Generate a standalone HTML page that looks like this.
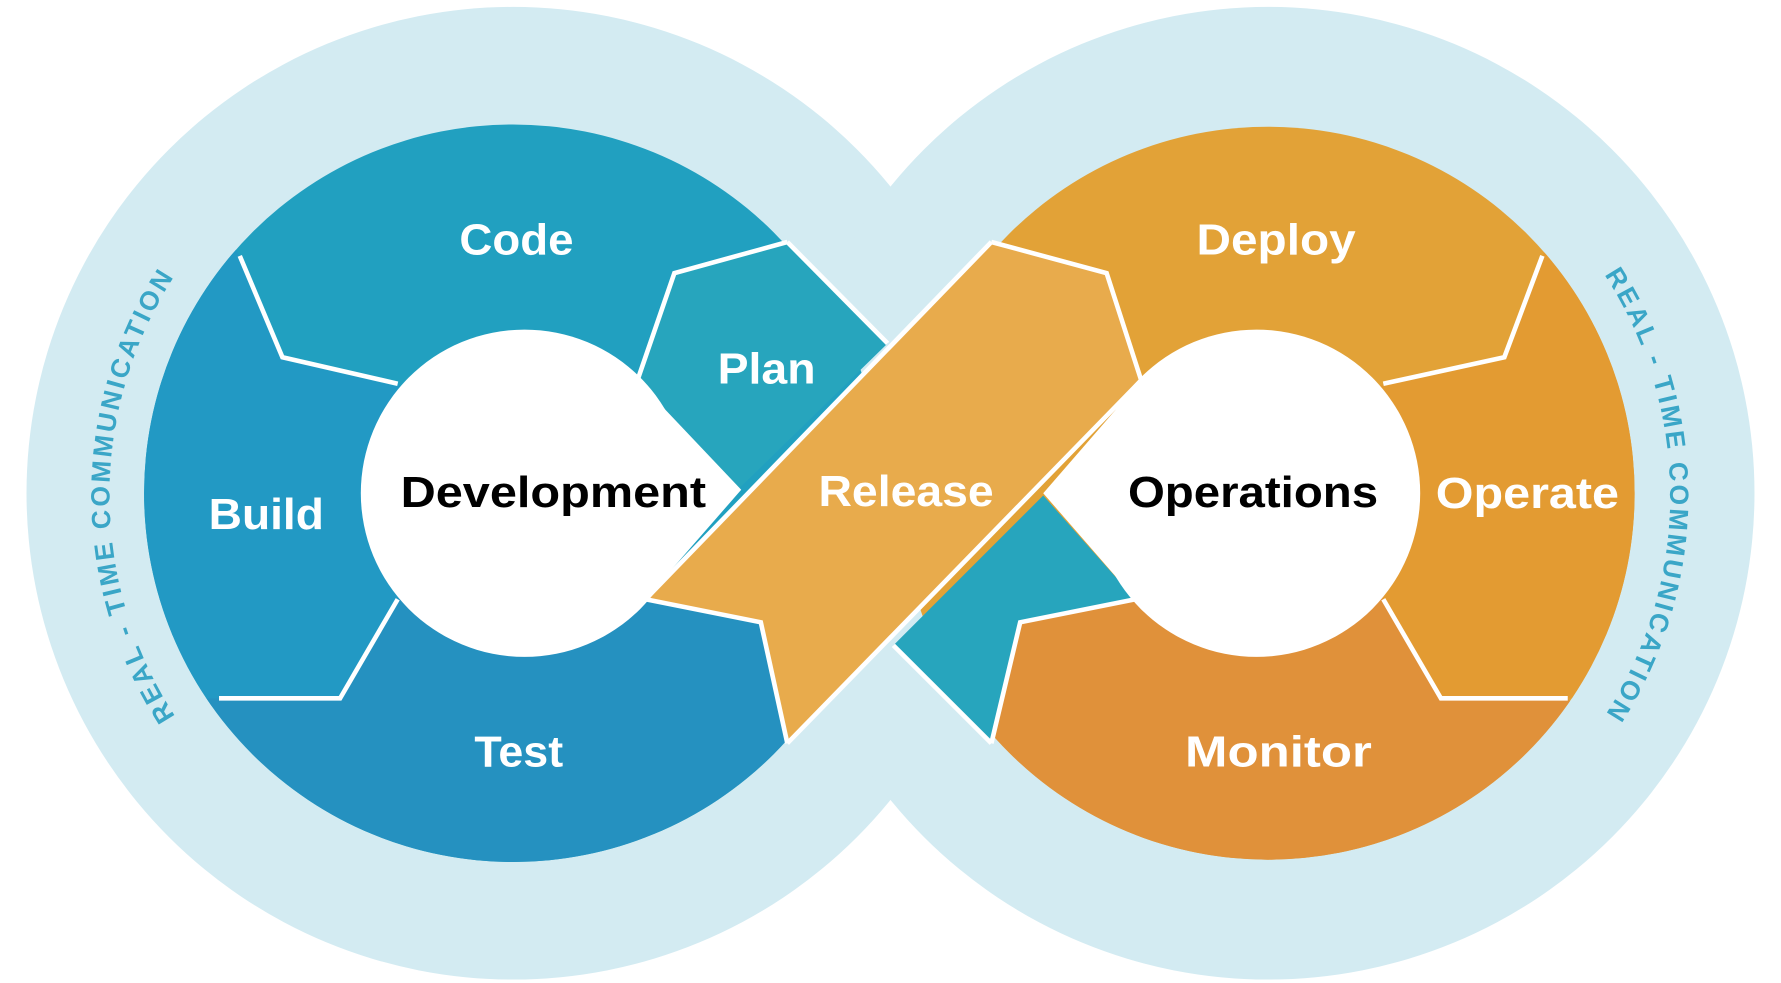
<!DOCTYPE html>
<html><head><meta charset="utf-8"><style>
html,body{margin:0;padding:0;background:#fff;width:1781px;height:983px;overflow:hidden;}
svg{display:block;}
text{font-family:"Liberation Sans",sans-serif;font-weight:bold;}
</style></head><body>
<svg width="1781" height="983" viewBox="0 0 1545 853" preserveAspectRatio="none" xmlns="http://www.w3.org/2000/svg">
<defs>
<clipPath id="cl"><circle cx="445" cy="428" r="320"/></clipPath>
<clipPath id="cr"><circle cx="1100" cy="428" r="318"/></clipPath>
<path id="arcL" d="M 165 640 A 350 350 0 0 1 165 220" fill="none"/>
<path id="arcR" d="M 1375 215 A 350 350 0 0 1 1375 645" fill="none"/>
</defs>
<rect width="1545" height="853" fill="#fff"/>
<circle cx="445" cy="428" r="422" fill="#d3ebf2"/>
<circle cx="1100" cy="428" r="422" fill="#d3ebf2"/>

<g clip-path="url(#cl)">
<rect x="100" y="100" width="700" height="700" fill="#21a0c0"/>
<polygon points="0,0 150,130 208,222 245,310 345,333 455,428 345,520 295,606 190,606 100,700 0,700" fill="#2299c4"/>
<polygon points="190,606 295,606 345,520 455,428 560,520 660,540 683,645 700,800 100,800 100,606" fill="#2591c0"/>
</g>
<g clip-path="url(#cr)">
<rect x="770" y="100" width="700" height="700" fill="#e2a237"/>
<polygon points="1400,100 1338,222 1305,310 1200,333 1090,428 1200,520 1250,606 1360,606 1600,606 1600,100" fill="#e39b32"/>
<polygon points="1360,606 1250,606 1200,520 1090,428 985,520 885,540 860,645 800,900 1600,900" fill="#e0913a"/>
</g>
<polygon points="585,237 683,210 770,298 640,425 553,330" fill="#27a5bd"/>
<polygon points="905,430 985,520 885,540 860,645 775,560" fill="#27a5bd"/>
<polyline points="683,210 770,298" stroke="#fff" stroke-width="4" fill="none"/>
<polyline points="775,560 860,645" stroke="#fff" stroke-width="4" fill="none"/>
<polygon points="560,520 860,210 960,237 990,330 683,645 660,540" fill="#e8ab4c"/>
<polyline points="560,520 860,210" stroke="#fff" stroke-width="4" fill="none"/>
<polyline points="990,330 683,645" stroke="#fff" stroke-width="4" fill="none"/>

<g stroke="#fff" stroke-width="4" fill="none">
<polyline points="208,222 245,310 345,333"/>
<polyline points="683,210 585,237 553,330"/>
<polyline points="190,606 295,606 345,520"/>
<polyline points="560,520 660,540 683,645"/>
<polyline points="860,210 960,237 990,330"/>
<polyline points="1338,222 1305,310 1200,333"/>
<polyline points="1200,520 1250,606 1360,606"/>
<polyline points="985,520 885,540 860,645"/>
</g>

<circle cx="455" cy="428" r="142" fill="#fff"/>
<polygon points="553,330 643,425 560,520 455,428" fill="#fff"/>
<circle cx="1090" cy="428" r="142" fill="#fff"/>
<polygon points="990,330 905,428 985,520 1090,428" fill="#fff"/>

<g fill="#fff" font-size="38" text-anchor="middle">
<text x="448" y="221" textLength="99" lengthAdjust="spacingAndGlyphs">Code</text>
<text x="665" y="333" textLength="85" lengthAdjust="spacingAndGlyphs">Plan</text>
<text x="231" y="459" textLength="100" lengthAdjust="spacingAndGlyphs">Build</text>
<text x="450" y="665" textLength="77" lengthAdjust="spacingAndGlyphs">Test</text>
<text x="786" y="439" textLength="152" lengthAdjust="spacingAndGlyphs">Release</text>
<text x="1107" y="221" textLength="138" lengthAdjust="spacingAndGlyphs">Deploy</text>
<text x="1325" y="441" textLength="159" lengthAdjust="spacingAndGlyphs">Operate</text>
<text x="1109" y="665" textLength="162" lengthAdjust="spacingAndGlyphs">Monitor</text>
</g>
<g fill="#000" font-size="38" text-anchor="middle">
<text x="480" y="440" textLength="265" lengthAdjust="spacingAndGlyphs">Development</text>
<text x="1087" y="440" textLength="217" lengthAdjust="spacingAndGlyphs">Operations</text>
</g>
<g fill="#3aa6c7" font-size="23" font-weight="normal" letter-spacing="2.5">
<text text-anchor="middle"><textPath href="#arcL" startOffset="50%">REAL - TIME COMMUNICATION</textPath></text>
<text text-anchor="middle"><textPath href="#arcR" startOffset="50%">REAL - TIME COMMUNICATION</textPath></text>
</g>
</svg>
</body></html>
